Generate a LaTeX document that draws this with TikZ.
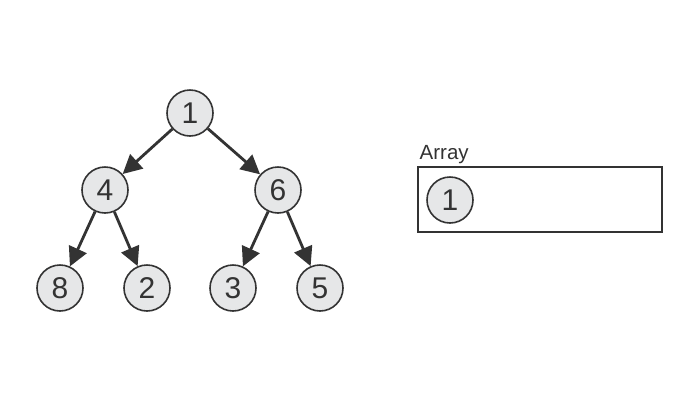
\documentclass[tikz,border=0pt]{standalone}
\usepackage{fontspec}
\setmainfont{Liberation Sans}
\usetikzlibrary{arrows.meta}
\definecolor{nodefill}{HTML}{E6E7E8}
\definecolor{ink}{HTML}{333333}
\tikzset{
  hnode/.style={circle,draw=ink,line width=1.6pt,fill=nodefill,minimum size=46pt,inner sep=0pt,font=\fontsize{30}{32}\selectfont,text=ink},
  edge/.style={draw=ink,line width=2.8pt,-{Triangle[length=19pt,width=19pt]}},
  arrbox/.style={draw=ink,line width=1.6pt}
}
\begin{document}
\begin{tikzpicture}[x=1pt,y=-1pt]
\useasboundingbox[fill=white] (0,0) rectangle (700,400);
\node[hnode] (n1) at (190,113) {1};
\node[hnode] (n4) at (105,190) {4};
\node[hnode] (n6) at (278,190) {6};
\node[hnode] (n8) at (60,288) {8};
\node[hnode] (n2) at (147,288) {2};
\node[hnode] (n3) at (233,288) {3};
\node[hnode] (n5) at (320,288) {5};
\draw[edge] (n1) -- (n4);
\draw[edge] (n1) -- (n6);
\draw[edge] (n4) -- (n8);
\draw[edge] (n4) -- (n2);
\draw[edge] (n6) -- (n3);
\draw[edge] (n6) -- (n5);
\node[arrbox,minimum width=244pt,minimum height=65pt,inner sep=0pt] (box) at (540,199.5) {};
\node[anchor=base west,inner sep=0pt,font=\fontsize{20.5}{23}\selectfont,text=ink] (lbl) at (419.5,159.5) {Array};
\node[hnode] (a1) at (450,200) {1};
\end{tikzpicture}
\end{document}
